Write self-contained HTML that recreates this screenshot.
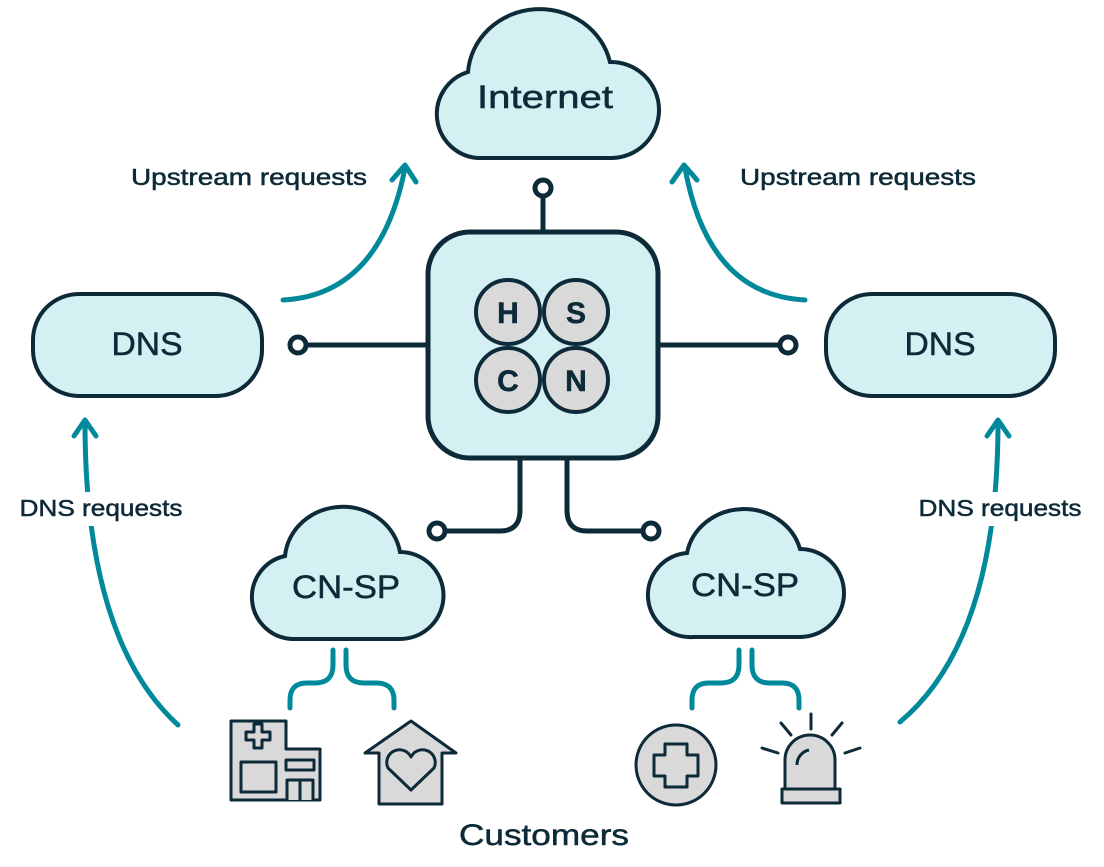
<!DOCTYPE html>
<html><head><meta charset="utf-8"><style>
html,body{margin:0;padding:0;background:#fff;}
svg{display:block}
text{font-family:"Liberation Sans",sans-serif;fill:#0d2a38;stroke:#0d2a38;stroke-width:0.5}
</style></head><body>
<svg width="1104" height="867" viewBox="0 0 1104 867" xmlns="http://www.w3.org/2000/svg">
<g fill="none" stroke="#0d2a38" stroke-width="5" stroke-linecap="round">
<line x1="543" y1="196" x2="543" y2="232"/>
<line x1="306" y1="345" x2="428" y2="345"/>
<line x1="658" y1="345" x2="780" y2="345"/>
<path d="M520 460 V510 Q520 531 500 531 H445"/>
<path d="M567 460 V510 Q567 531 587 531 H643"/>
</g>
<g fill="#fff" stroke="#0d2a38" stroke-width="5">
<circle cx="543" cy="188" r="8"/>
<circle cx="298" cy="345" r="8"/>
<circle cx="788" cy="345" r="8"/>
<circle cx="437" cy="531" r="8"/>
<circle cx="651" cy="531" r="8"/>
</g>
<g fill="#d4f0f3" stroke="#0d2a38" stroke-width="4">
<path d="M478 158 A44 44 0 0 1 468 72 A72 68 0 0 1 610 62 A48 48 0 0 1 612 158 Z"/>
<path d="M292 639 A42 42 0 0 1 285 556 A58 54 0 0 1 400 552 A43 43 0 0 1 400 639 Z"/>
<path d="M693 637 A42 42 0 0 1 687 553 A58 54 0 0 1 800 549 A43 43 0 0 1 800 637 Z"/>
<rect x="428" y="232" width="230" height="226" rx="42" stroke-width="5"/>
<rect x="33" y="294" width="229" height="102" rx="46"/>
<rect x="826" y="294" width="229" height="102" rx="46"/>
</g>
<g fill="#d9d9d9" stroke="#0d2a38" stroke-width="4">
<circle cx="508" cy="312" r="32"/>
<circle cx="576" cy="312" r="32"/>
<circle cx="508" cy="380" r="32"/>
<circle cx="576" cy="380" r="32"/>
</g>
<g font-size="30" font-weight="bold" text-anchor="middle">
<text x="508" y="323">H</text><text x="576" y="323">S</text>
<text x="508" y="391">C</text><text x="576" y="391">N</text>
</g>
<g fill="none" stroke="#00899a" stroke-width="5" stroke-linecap="round" stroke-linejoin="round">
<path d="M283 300 Q380 295 405 168"/>
<path d="M392 180 L405 165 L416 182"/>
<path d="M805 300 Q708 295 685 168"/>
<path d="M672 182 L684 165 L697 180"/>
<path d="M178 725 Q85 640 85 422"/>
<path d="M74 436 L85 420 L96 436"/>
<path d="M900 722 Q998 640 998 422"/>
<path d="M987 436 L998 420 L1009 436"/>
<path d="M333 650 V665 Q333 683 315 683 H307 Q290 683 290 700 V708"/>
<path d="M346 650 V665 Q346 683 364 683 H376 Q394 683 394 700 V708"/>
<path d="M739 650 V665 Q739 683 721 683 H709 Q692 683 692 700 V708"/>
<path d="M752 650 V665 Q752 683 770 683 H782 Q799 683 799 700 V708"/>
</g>
<rect x="16" y="492" width="172" height="34" fill="#fff"/>
<rect x="914" y="492" width="174" height="34" fill="#fff"/>
<g font-size="32" text-anchor="middle">
<text x="545" y="108" textLength="136" lengthAdjust="spacingAndGlyphs">Internet</text>
<text x="147" y="355" textLength="71" lengthAdjust="spacingAndGlyphs">DNS</text>
<text x="940" y="355" textLength="71" lengthAdjust="spacingAndGlyphs">DNS</text>
<text x="346" y="598" textLength="108" lengthAdjust="spacingAndGlyphs">CN-SP</text>
<text x="745" y="596" textLength="108" lengthAdjust="spacingAndGlyphs">CN-SP</text>
<text x="544" y="845" font-size="30" textLength="170" lengthAdjust="spacingAndGlyphs">Customers</text>
</g>
<g font-size="23" text-anchor="middle">
<text x="249" y="185" textLength="236" lengthAdjust="spacingAndGlyphs">Upstream requests</text>
<text x="858" y="185" textLength="236" lengthAdjust="spacingAndGlyphs">Upstream requests</text>
<text x="101" y="516" textLength="163" lengthAdjust="spacingAndGlyphs">DNS requests</text>
<text x="1000" y="516" textLength="163" lengthAdjust="spacingAndGlyphs">DNS requests</text>
</g>
<g fill="#d9d9d9" stroke="#0d2a38" stroke-width="3" stroke-linejoin="round">
<path d="M231 721 H286 V749 H320 V800 H231 Z"/>
<path d="M246 732 h8 v-8 h8 v8 h8 v8 h-8 v8 h-8 v-8 h-8 Z"/>
<rect x="241" y="762" width="35" height="30"/>
<rect x="286" y="760" width="28" height="10"/>
<path d="M287 800 V780 H313 V800 M300 780 V800"/>
<path d="M365 753 L411 721 L456 753 H442 V804 H379 V753 Z"/>
<path d="M411 790 L388 768 A12 12 0 0 1 411 757 A12 12 0 0 1 434 768 Z"/>
<circle cx="676" cy="765" r="40"/>
<path d="M665 744 h22 v11 h11 v21 h-11 v11 h-22 v-11 h-11 v-21 h11 Z" fill="none"/>
<path d="M785 789 V760 A25 25 0 0 1 835 760 V789 Z"/>
<rect x="782" y="789" width="58" height="14"/>
<path d="M797 765 A15 15 0 0 1 809 750" fill="none"/>
</g>
<g stroke="#0d2a38" stroke-width="3" stroke-linecap="round">
<line x1="811" y1="714" x2="811" y2="729"/>
<line x1="781" y1="723" x2="791" y2="735"/>
<line x1="842" y1="723" x2="832" y2="735"/>
<line x1="762" y1="748" x2="778" y2="753"/>
<line x1="860" y1="748" x2="845" y2="753"/>
</g>
</svg>
</body></html>
